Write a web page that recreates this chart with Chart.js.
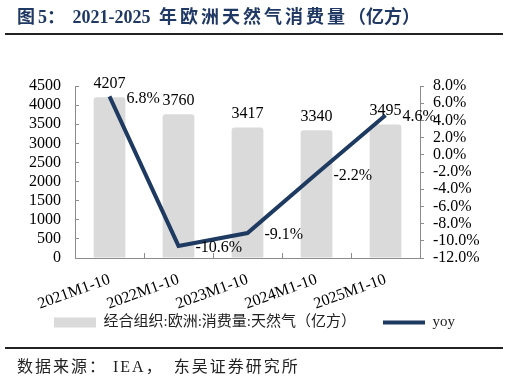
<!DOCTYPE html>
<html>
<head>
<meta charset="utf-8">
<script src="https://cdn.jsdelivr.net/npm/chart.js@4.4.1/dist/chart.umd.min.js"></script>
<style>
  body { margin: 0; width: 509px; height: 382px; background: #fff; position: relative; overflow: hidden; }
  #chart { position: absolute; left: 0; top: 0; }
  .title { position: absolute; left: 17px; top: 4px; line-height: 26px; white-space: nowrap;
           font-family: "Liberation Serif", "Noto Sans CJK SC", serif; font-weight: bold; font-size: 18px; color: #1f3864; }
  .title .cjk { letter-spacing: 3px; }
  .rule { position: absolute; left: 5px; width: 498px; height: 2px; background: #222; }
  .source { position: absolute; left: 17px; top: 356px; line-height: 22px; white-space: nowrap;
            font-family: "Liberation Serif", "Noto Sans CJK SC", serif; font-size: 16px; letter-spacing: 2px; color: #222; }
</style>
</head>
<body>
<canvas id="chart" width="509" height="382"></canvas>
<div class="title"><span class="cjk">图</span>5<span class="cjk">：</span> 2021-2025 <span class="cjk" style="margin-left:4px">年欧洲天然气消费量</span>（亿方）</div>
<div class="rule" style="top:33px"></div>
<div class="rule" style="top:347px"></div>
<div class="source">数据来源：<span style="margin-left:6px">IEA</span>，<span style="margin-left:10px">东吴证券研究所</span></div>
<script>
// 数据
const categories = ['2021M1-10', '2022M1-10', '2023M1-10', '2024M1-10', '2025M1-10'];
const consumption = [4207, 3760, 3417, 3340, 3495];   // 亿方
const yoy = [6.8, -10.6, -9.1, -2.2, 4.6];            // %
const barLabel = '经合组织:欧洲:消费量:天然气（亿方）';
const lineLabel = 'yoy';

const serif = '"Liberation Serif", "Noto Sans CJK SC", serif';

// etichette sui punti
const valueLabels = {
    id: 'valueLabels',
    beforeDraw(chart) {
        // le etichette ruotate escono dal box dell'asse x: niente clip
        chart.scales.x._computeLabelArea = () => undefined;
    },
    afterDatasetsDraw(chart) {
        const { ctx } = chart;
        ctx.save();
        ctx.font = '16px ' + serif;
        ctx.fillStyle = '#000';
        chart.getDatasetMeta(0).data.forEach((bar, i) => {
            ctx.textAlign = 'center';
            ctx.textBaseline = 'alphabetic';
            ctx.fillText(String(consumption[i]), bar.x, bar.y - 9);
        });
        chart.getDatasetMeta(1).data.forEach((pt, i) => {
            ctx.textAlign = 'left';
            ctx.textBaseline = 'middle';
            ctx.fillText(yoy[i].toFixed(1) + '%', pt.x + 17, pt.y + 2);
        });
        ctx.restore();
    }
};

const axisColor = '#8c8c8c';

new Chart(document.getElementById('chart'), {
    type: 'bar',
    data: {
        labels: categories,
        datasets: [{
            label: barLabel,
            data: consumption,
            backgroundColor: '#dadada',
            borderWidth: 0,
            borderRadius: 3,
            categoryPercentage: 1,
            barPercentage: 0.46,
            yAxisID: 'y',
            order: 1
        }, {
            type: 'line',
            label: lineLabel,
            data: yoy,
            borderColor: '#1f3a60',
            backgroundColor: '#1f3a60',
            borderWidth: 4,
            pointRadius: 0,
            tension: 0,
            yAxisID: 'y1',
            order: 0
        }]
    },
    options: {
        responsive: false,
        animation: false,
        layout: { padding: { top: 86, left: 0, right: 0, bottom: 42 } },
        plugins: {
            tooltip: { enabled: false },
            legend: {
                position: 'bottom',
                labels: {
                    usePointStyle: true,
                    pointStyleWidth: 42,
                    boxHeight: 10,
                    padding: 27,
                    color: '#222',
                    font: { family: serif, size: 15 },
                    generateLabels(chart) {
                        const items = Chart.defaults.plugins.legend.labels.generateLabels(chart);
                        items.sort((a, b) => a.datasetIndex - b.datasetIndex);
                        items.forEach(it => { it.pointStyle = it.datasetIndex === 0 ? 'rect' : 'line'; });
                        return items;
                    }
                }
            }
        },
        scales: {
            x: {
                // tacche verso l'interno
                grid: { drawOnChartArea: false, offset: true, tickLength: -5, color: axisColor },
                border: { color: axisColor },
                ticks: { color: '#000', font: { family: serif, size: 16 }, minRotation: 20, maxRotation: 20, padding: 17, autoSkip: false },
                afterFit(s) { s.height = 30; }
            },
            y: {
                position: 'left',
                min: 0,
                max: 4500,
                grid: { drawOnChartArea: false, tickLength: -4, color: axisColor },
                border: { color: axisColor },
                ticks: { stepSize: 500, autoSkip: false, color: '#000', font: { family: serif, size: 16 }, padding: 18,
                         callback: v => String(v) },
                afterFit(s) { s.width = 75; }
            },
            y1: {
                position: 'right',
                min: -12,
                max: 8,
                grid: { drawOnChartArea: false, tickLength: 4, color: axisColor },
                border: { color: axisColor },
                ticks: { stepSize: 2, autoSkip: false, color: '#000', font: { family: serif, size: 16 }, padding: 9,
                         callback: v => v.toFixed(1) + '%' },
                afterFit(s) { s.width = 89; }
            }
        }
    },
    plugins: [valueLabels]
});
</script>
</body>
</html>
